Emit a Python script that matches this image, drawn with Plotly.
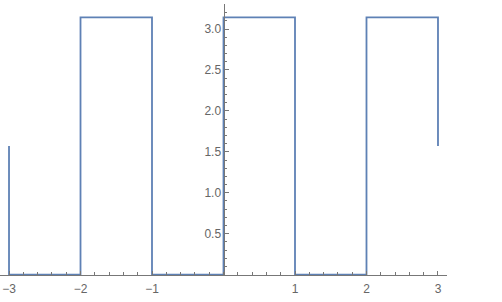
import plotly.graph_objects as go

x_vals = [-3, -3, -2, -2, -1, -1, 0, 0, 1, 1, 2, 2, 3, 3]
y_vals = [1.571, 0, 0, 3.1416, 3.1416, 0, 0, 3.1416, 3.1416, 0, 0, 3.1416, 3.1416, 1.571]

x_ticks = [-3, -2, -1, 1, 2, 3]
x_tick_text = ["\u22123", "\u22122", "\u22121", "1", "2", "3"]
y_ticks = [0.5, 1.0, 1.5, 2.0, 2.5, 3.0]
y_tick_text = ["0.5", "1.0", "1.5", "2.0", "2.5", "3.0"]

XR = [-3.126, 3.126]
YR = [-0.005, 3.306]

fig = go.Figure()
fig.add_trace(go.Scatter(
    x=x_vals, y=y_vals, mode="lines",
    line=dict(color="#5E81B5", width=1.8),
    hoverinfo="skip", showlegend=False,
))

axis_color = "#777777"
font = dict(family="Liberation Sans, Arial, sans-serif", size=12, color="#666666")

fig.update_layout(
    width=502, height=302,
    margin=dict(l=0, r=55, t=4, b=27),
    paper_bgcolor="white", plot_bgcolor="white",
    showlegend=False,
    xaxis=dict(
        range=XR, showgrid=False, zeroline=False,
        showline=True, linecolor=axis_color, linewidth=1,
        anchor="free", position=(0 - YR[0]) / (YR[1] - YR[0]),
        tickmode="array", tickvals=x_ticks, ticktext=x_tick_text,
        ticks="inside", ticklen=4, tickcolor=axis_color, tickwidth=1,
        minor=dict(tick0=0, dtick=0.2, ticks="inside", ticklen=2.5,
                   tickcolor=axis_color, tickwidth=1, showgrid=False),
        tickfont=font, ticklabelstandoff=3,
    ),
    yaxis=dict(
        range=YR, showgrid=False, zeroline=False,
        showline=True, linecolor=axis_color, linewidth=1,
        anchor="free", position=(0 - XR[0]) / (XR[1] - XR[0]),
        side="left",
        tickmode="array", tickvals=y_ticks, ticktext=y_tick_text,
        ticks="inside", ticklen=4, tickcolor=axis_color, tickwidth=1,
        minor=dict(tick0=0, dtick=0.1, ticks="inside", ticklen=2.5,
                   tickcolor=axis_color, tickwidth=1, showgrid=False),
        tickfont=font,
    ),
)

fig.write_html("out.html")
